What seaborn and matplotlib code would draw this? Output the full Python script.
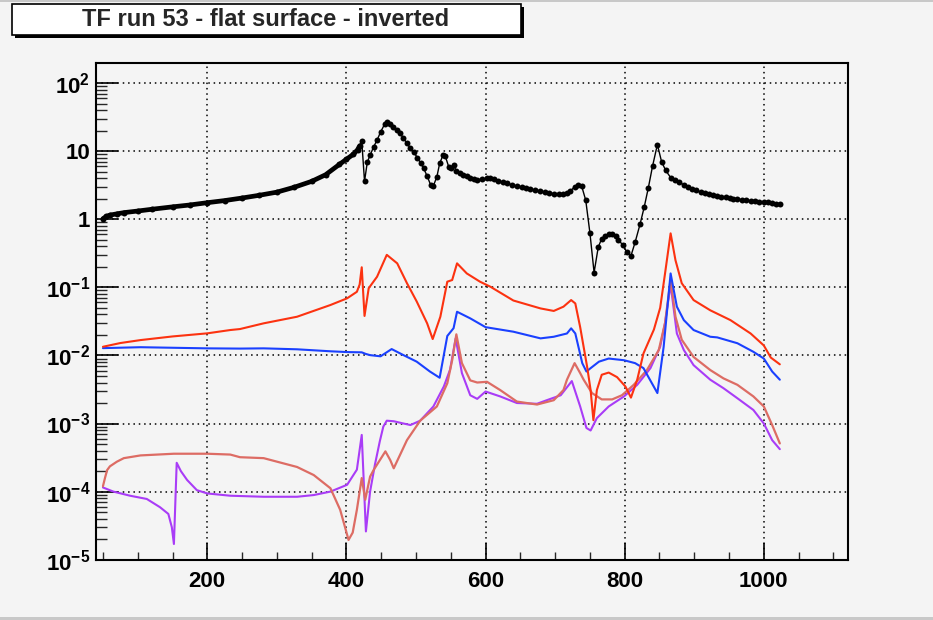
import matplotlib
matplotlib.use('Agg')
import matplotlib.pyplot as plt
import matplotlib.ticker as mticker
from matplotlib.patches import Rectangle
import seaborn as sns

# transfer function curves
black_x = [50, 55, 60, 70, 80, 100, 120, 150, 175, 200, 225, 250, 275, 300, 325, 350, 370, 390, 400, 410,
           416, 419, 422, 426, 430, 434, 439, 444, 449, 455, 458, 462, 467, 472, 477, 482, 487, 492, 497, 502,
           507, 511, 516, 521, 525, 530, 534, 539, 542, 547, 550, 554, 558, 563, 568, 573, 578, 583, 588, 595,
           602, 607, 612, 618, 625, 631, 638, 645, 652, 658, 664, 671, 678, 685, 691, 698, 705, 712, 717, 722,
           728, 733, 738, 744, 750, 756, 762, 767, 772, 777, 782, 787, 791, 797, 803, 809, 815, 822, 828, 834,
           840, 847, 853, 859, 866, 872, 878, 885, 891, 897, 903, 909, 915, 921, 927, 933, 939, 945, 951, 956,
           962, 968, 974, 981, 987, 993, 1000, 1006, 1012, 1017, 1023]
black_y = [1.02, 1.1, 1.15, 1.2, 1.25, 1.32, 1.4, 1.52, 1.62, 1.75, 1.88, 2.05, 2.25, 2.5, 2.95, 3.6, 4.5, 6.4, 7.6, 9.0,
           10.5, 12, 14.2, 3.6, 6.9, 8.7, 11.5, 14.5, 19, 25, 26.5, 25, 23, 20.5, 18.2, 15.5, 13, 11, 9.6, 8.0,
           6.6, 5.6, 4.3, 3.2, 3.1, 4.2, 6.6, 8.8, 8.5, 5.9, 5.6, 6.3, 5.1, 4.8, 4.5, 4.3, 4.1, 3.9, 3.8, 3.85,
           4.0, 4.0, 3.9, 3.7, 3.5, 3.35, 3.2, 3.05, 2.95, 2.85, 2.75, 2.65, 2.57, 2.5, 2.42, 2.38, 2.35, 2.32, 2.4, 2.6,
           3.0, 3.15, 3.1, 1.9, 0.63, 0.165, 0.39, 0.52, 0.57, 0.6, 0.6, 0.57, 0.5, 0.42, 0.33, 0.29, 0.46, 0.84, 1.5, 2.9,
           6.0, 12.5, 7.0, 5.2, 4.1, 3.8, 3.5, 3.2, 3.0, 2.8, 2.65, 2.5, 2.42, 2.35, 2.27, 2.2, 2.15, 2.1, 2.05, 2.0,
           1.97, 1.94, 1.9, 1.87, 1.85, 1.82, 1.8, 1.77, 1.73, 1.7, 1.67]

red_x = [50, 75, 104, 150, 200, 233, 247, 281, 329, 377, 401, 415, 419, 422, 426, 432, 444, 458, 473, 487,
         501, 516, 524, 535, 545, 552, 559, 573, 592, 607, 640, 679, 698, 712, 723, 729, 736, 746, 751, 755,
         760, 767, 777, 789, 801, 809, 818, 827, 842, 851, 858, 866, 873, 882, 899, 923, 952, 981, 1000, 1010, 1023]
red_y = [0.0134, 0.0152, 0.0168, 0.019, 0.0211, 0.0236, 0.0244, 0.0296, 0.037, 0.055, 0.069, 0.086, 0.11, 0.197,
         0.038, 0.097, 0.143, 0.30, 0.225, 0.115, 0.062, 0.0296, 0.0174, 0.037, 0.121, 0.128, 0.225, 0.16, 0.121,
         0.102, 0.064, 0.049, 0.045, 0.052, 0.065, 0.058, 0.026, 0.0068, 0.0031, 0.00112, 0.0031, 0.0052, 0.0056,
         0.0048, 0.0035, 0.0024, 0.0044, 0.0107, 0.024, 0.05, 0.16, 0.62, 0.25, 0.115, 0.065, 0.046, 0.033, 0.021,
         0.014, 0.0093, 0.0074]

blue_x = [50, 104, 200, 247, 281, 329, 377, 401, 422, 428, 434, 449, 465, 482, 501, 520, 534, 545, 554, 559,
          578, 600, 640, 679, 698, 717, 723, 729, 739, 745, 751, 763, 777, 799, 815, 827, 847, 856, 866, 875,
          885, 899, 923, 933, 962, 985, 1000, 1012, 1023]
blue_y = [0.0128, 0.0132, 0.0127, 0.0126, 0.0127, 0.0123, 0.0115, 0.0112, 0.0111, 0.0105, 0.0101, 0.0097, 0.0124,
          0.0101, 0.0081, 0.0058, 0.0047, 0.0193, 0.0251, 0.0438, 0.035, 0.026, 0.0223, 0.0178, 0.0188, 0.021, 0.025,
          0.021, 0.0077, 0.0058, 0.0065, 0.0081, 0.009, 0.0085, 0.0077, 0.0065, 0.0028, 0.0134, 0.16, 0.052, 0.033,
          0.0236, 0.0188, 0.0184, 0.0151, 0.0113, 0.009, 0.0058, 0.0044]

pink_x = [50, 53, 56, 60, 70, 80, 104, 152, 200, 233, 247, 281, 329, 353, 377, 391, 398, 403, 409, 415,
          422, 427, 434, 439, 456, 463, 468, 487, 506, 530, 545, 552, 558, 566, 578, 588, 602, 621, 645, 674,
          698, 712, 717, 728, 736, 741, 753, 767, 782, 796, 813, 832, 849, 858, 866, 873, 882, 899, 923, 942,
          962, 985, 1000, 1012, 1023]
pink_y = [1.2e-4, 1.6e-4, 2.07e-4, 2.35e-4, 2.75e-4, 3.1e-4, 3.4e-4, 3.6e-4, 3.6e-4, 3.5e-4, 3.2e-4, 3.1e-4, 2.3e-4,
          1.75e-4, 1.12e-4, 5.4e-5, 3.0e-5, 1.95e-5, 2.5e-5, 5.4e-5, 1.58e-4, 7.6e-5, 1.66e-4, 2.07e-4, 3.9e-4,
          2.9e-4, 2.2e-4, 5.7e-4, 1.1e-3, 1.78e-3, 3.9e-3, 8.5e-3, 0.0204, 7.7e-3, 4.3e-3, 4.0e-3, 4.1e-3, 3.1e-3,
          2.1e-3, 1.9e-3, 2.2e-3, 3.1e-3, 4.4e-3, 7.7e-3, 5.5e-3, 4.4e-3, 2.8e-3, 2.26e-3, 2.26e-3, 2.6e-3, 3.7e-3,
          6.1e-3, 0.012, 0.03, 0.13, 0.037, 0.017, 9.5e-3, 6.1e-3, 4.6e-3, 3.7e-3, 2.5e-3, 1.78e-3, 9.5e-4, 5.1e-4]

purple_x = [50, 65, 89, 113, 132, 144, 149, 152, 156, 162, 171, 185, 200, 233, 281, 329, 353, 377, 401, 415,
            422, 428, 434, 441, 448, 453, 458, 468, 482, 492, 506, 525, 540, 549, 557, 566, 578, 588, 600, 621,
            645, 674, 688, 708, 724, 736, 745, 751, 760, 777, 799, 818, 837, 851, 858, 866, 875, 885, 899, 923,
            942, 962, 985, 1000, 1012, 1023]
purple_y = [1.15e-4, 1.0e-4, 8.7e-5, 7.8e-5, 5.9e-5, 4.7e-5, 3.0e-5, 1.7e-5, 2.65e-4, 2.0e-4, 1.48e-4, 1.05e-4,
            9.4e-5, 8.7e-5, 8.4e-5, 8.4e-5, 8.9e-5, 1.0e-4, 1.26e-4, 2.1e-4, 6.8e-4, 2.6e-5, 1.0e-4, 2.5e-4, 5.5e-4,
            9e-4, 1.1e-3, 1.08e-3, 1.0e-3, 9.5e-4, 1.1e-3, 1.78e-3, 3.5e-3, 6.2e-3, 0.0178, 5.5e-3, 2.6e-3, 2.3e-3,
            2.95e-3, 2.5e-3, 2.0e-3, 1.95e-3, 2.2e-3, 2.6e-3, 4.2e-3, 1.78e-3, 8.6e-4, 7.9e-4, 1.2e-3, 1.78e-3,
            2.5e-3, 3.7e-3, 6.5e-3, 0.0134, 0.03, 0.11, 0.021, 0.012, 7.2e-3, 4.4e-3, 3.3e-3, 2.35e-3, 1.58e-3,
            1.0e-3, 5.7e-4, 4.2e-4]

y_ticks = [1e-5, 1e-4, 1e-3, 1e-2, 1e-1, 1, 10, 100]
y_labels = [r'$\mathbf{10^{-5}}$', r'$\mathbf{10^{-4}}$', r'$\mathbf{10^{-3}}$', r'$\mathbf{10^{-2}}$',
            r'$\mathbf{10^{-1}}$', '1', '10', r'$\mathbf{10^{2}}$']
title = 'TF run 53 - flat surface - inverted'

bg = '#f4f4f4'
sns.set_style('ticks', {'axes.facecolor': bg, 'figure.facecolor': bg})
plt.rcParams['font.family'] = ['Liberation Sans', 'DejaVu Sans']
plt.rcParams['font.weight'] = 'bold'
plt.rcParams['mathtext.fontset'] = 'custom'
plt.rcParams['mathtext.bf'] = 'Liberation Sans:bold'
plt.rcParams['mathtext.rm'] = 'Liberation Sans:bold'

fig = plt.figure(figsize=(9.33, 6.2), dpi=100)
ax = fig.add_axes([96 / 933, 60.3 / 620, 752 / 933, 496.7 / 620])

sns.lineplot(x=purple_x, y=purple_y, ax=ax, color='#a93cf7', lw=1.5, sort=False)
sns.lineplot(x=pink_x, y=pink_y, ax=ax, color='#dd6c64', lw=1.6, sort=False)
sns.lineplot(x=blue_x, y=blue_y, ax=ax, color='#1a40ff', lw=1.5, sort=False)
sns.lineplot(x=red_x, y=red_y, ax=ax, color='#fc3210', lw=1.5, sort=False)
# left part of the black curve looks solid because the markers are so dense
bx_left = [x for x in black_x if x <= 419]
by_left = black_y[:len(bx_left)]
sns.lineplot(x=bx_left, y=by_left, ax=ax, color='black', lw=3.4, sort=False)
sns.lineplot(x=black_x, y=black_y, ax=ax, color='black', lw=1.0, sort=False,
             marker='o', markersize=4.3, markeredgewidth=0)

ax.set_yscale('log')
ax.set_xlim(40, 1121)
ax.set_ylim(1e-5, 197)

ax.xaxis.set_major_locator(mticker.MultipleLocator(200))
ax.xaxis.set_minor_locator(mticker.MultipleLocator(50))
ax.yaxis.set_major_locator(mticker.FixedLocator(y_ticks))
ax.yaxis.set_major_formatter(mticker.FixedFormatter(y_labels))
ax.yaxis.set_minor_locator(mticker.LogLocator(base=10, subs=range(2, 10), numticks=20))
ax.yaxis.set_minor_formatter(mticker.NullFormatter())

ax.tick_params(axis='x', which='major', direction='in', length=12, width=1.2, labelsize=16, pad=8,
               top=False, colors='black')
ax.tick_params(axis='x', which='minor', direction='in', length=6, width=1.0, top=False)
ax.tick_params(axis='y', which='major', direction='in', length=16, width=1.2, labelsize=16, pad=4,
               right=False, colors='black')
ax.tick_params(axis='y', which='minor', direction='in', length=8, width=1.0, right=False)
for lab in ax.get_xticklabels() + ax.get_yticklabels():
    lab.set_fontweight('bold')

ax.grid(True, which='major', color='black', linestyle=(0, (1, 2.5)), lw=1.1)
for sp in ax.spines.values():
    sp.set_linewidth(1.5)
    sp.set_color('black')

# ROOT style title box with shadow
fig.patches.append(Rectangle((15 / 933, 1 - 38 / 620), 509 / 933, 31 / 620, transform=fig.transFigure,
                             facecolor='black', edgecolor='none', zorder=1))
fig.patches.append(Rectangle((12 / 933, 1 - 35 / 620), 509 / 933, 31 / 620, transform=fig.transFigure,
                             facecolor='white', edgecolor='black', lw=1.2, zorder=2))
fig.text(266 / 933, 1 - 19.5 / 620, title, ha='center', va='center', fontsize=17, fontweight='bold', zorder=3)

# thin grey frame lines of the canvas
fig.patches.append(Rectangle((0, 1 - 2 / 620), 1, 2 / 620, transform=fig.transFigure,
                             facecolor='#c8c8c8', edgecolor='none'))
fig.patches.append(Rectangle((0, 0), 1, 3 / 620, transform=fig.transFigure,
                             facecolor='#c8c8c8', edgecolor='none'))

fig.savefig('out.png', dpi=100, facecolor=bg)
